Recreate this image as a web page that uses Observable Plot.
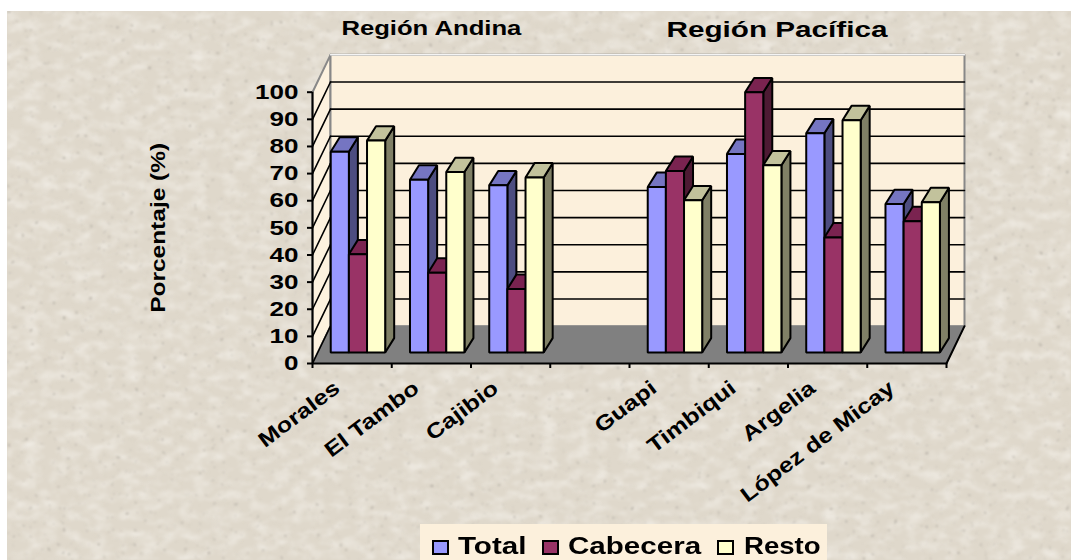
<!DOCTYPE html>
<html><head><meta charset="utf-8">
<script src="https://cdn.jsdelivr.net/npm/d3@7"></script>
<script src="https://cdn.jsdelivr.net/npm/@observablehq/plot@0.6"></script>
<style>
html,body{margin:0;padding:0;background:#fff;overflow:hidden}
#page{position:relative;width:1071px;height:560px;font-family:"Liberation Sans",Arial,sans-serif}
#bg{position:absolute;left:7px;top:11px;width:1064px;height:549px}
#chart{position:absolute;left:0;top:0}
#chart svg{background:transparent;display:block;font-family:"Liberation Sans",Arial,sans-serif}
#legend{position:absolute;left:420px;top:524px;width:407px;height:36px;background:#fcf0dc;overflow:hidden}
#legend i{position:absolute;top:16px;width:13px;height:11px;border:2px solid #000;display:block}
#legend span{position:absolute;top:4px;font:bold 24px "Liberation Sans",Arial,sans-serif;color:#000;line-height:36px;height:36px;white-space:nowrap;transform-origin:0 50%}
</style></head><body>
<div id="page">
<svg id="bg" xmlns="http://www.w3.org/2000/svg">
<filter id="mottle" x="0" y="0" width="100%" height="100%">
<feTurbulence type="fractalNoise" baseFrequency="0.06 0.1" numOctaves="3" seed="11"/>
<feColorMatrix values="0 0 0 0 0.95  0 0 0 0 0.93  0 0 0 0 0.89  1.2 0 0 0 -0.5"/>
<feGaussianBlur stdDeviation="0.8"/>
</filter>
<filter id="specks" x="0" y="0" width="100%" height="100%">
<feTurbulence type="fractalNoise" baseFrequency="0.22" numOctaves="2" seed="5"/>
<feColorMatrix values="0 0 0 0 0.45  0 0 0 0 0.42  0 0 0 0 0.37  6 0 0 0 -4.2"/>
<feGaussianBlur stdDeviation="0.8"/>
</filter>
<rect width="100%" height="100%" fill="#dfd8cb"/>
<rect width="100%" height="100%" filter="url(#mottle)"/>
<rect width="100%" height="100%" filter="url(#specks)"/>
</svg>
<div id="chart"></div>
<div id="legend"></div>
</div>
<script>
const categories = ["Morales","El Tambo","Cajibio","","Guapi","Timbiqui","Argelia","López de Micay"];
const total    = [74, 63.7, 61.6, null, 61, 73.2, 80.8, 54.7];
const cabecera = [36.2, 29.4, 23.4, null, 66.9, 95.9, 42.4, 48.4];
const resto    = [78.1, 66.5, 64.5, null, 56.1, 69, 85.6, 55.4];
const seriesNames = ["Total","Cabecera","Resto"];
const seriesValues = [total, cabecera, resto];
const frontColors = ["#9999ff","#993366","#ffffcc"];
const topColors   = ["#7575c2","#7a2350","#c2c29c"];
const sideColors  = ["#4d4d80","#4d1a33","#808066"];
const yTicks = d3.range(0,101,10);

// oblique depth in data units
const wallDx = 0.227, wallDy = 13.76;
const sideDx = 0.1136, sideDy = 5.3;
const baseDy = 4.06, barLeft = 0.23, barW = 0.229;

function poly(id, pts, color){ return pts.map(([x,y])=>({id,x,y,color})); }
const polys = [];
categories.forEach((c,i)=>{
  seriesValues.forEach((vals,s)=>{
    const v = vals[i];
    if (v == null) return;
    const x0 = i + barLeft + s*barW, x1 = x0 + barW;
    const y0 = baseDy, y1 = v + baseDy;
    polys.push(...poly(`side${i}${s}`,[[x1,y0],[x1,y1],[x1+sideDx,y1+sideDy],[x1+sideDx,y0+sideDy]],sideColors[s]));
    polys.push(...poly(`top${i}${s}`,[[x0,y1],[x1,y1],[x1+sideDx,y1+sideDy],[x0+sideDx,y1+sideDy]],topColors[s]));
    polys.push(...poly(`front${i}${s}`,[[x0,y0],[x1,y0],[x1,y1],[x0,y1]],frontColors[s]));
  });
});
const n = categories.length;
const pt = ([x,y])=>({x,y});
const leftWall = [[0,0],[0,100],[wallDx,100+wallDy],[wallDx,wallDy]].map(pt);
const backWall = [[wallDx,wallDy],[wallDx,100+wallDy],[n+wallDx,100+wallDy],[n+wallDx,wallDy]].map(pt);
const floor = [[0,0],[n,0],[n+wallDx,wallDy],[wallDx,wallDy]].map(pt);
const wallTop = [[wallDx,100+wallDy],[n+wallDx,100+wallDy]].map(pt);
const gridBack = yTicks.slice(1,-1).flatMap(t=>[{t,x:wallDx,y:t+wallDy},{t,x:n+wallDx,y:t+wallDy}]);
const gridSide = yTicks.slice(0,-1).flatMap(t=>[{t,x:0,y:t},{t,x:wallDx,y:t+wallDy}]);
const catTicks = d3.range(n+1);
const labelled = categories.map((c,i)=>({c,x:i+0.5})).filter(d=>d.c);

const chart = Plot.plot({
  width:1071, height:524, marginLeft:312, marginRight:125, marginTop:91.7, marginBottom:161,
  x:{domain:[0,n], axis:null},
  y:{domain:[0,100], axis:null},
  color:{type:"identity"},
  marks:[
    Plot.line(leftWall,{x:"x",y:"y",curve:"linear-closed",fill:"#fdf2df",stroke:"#888888",strokeWidth:2}),
    Plot.line(backWall,{x:"x",y:"y",curve:"linear-closed",fill:"#fcf0dc",stroke:"#888888",strokeWidth:2}),
    Plot.line(wallTop,{x:"x",y:"y",stroke:"#f4f4f4",strokeWidth:1.5}),
    Plot.line(floor,{x:"x",y:"y",curve:"linear-closed",fill:"#808080",stroke:"#808080",strokeWidth:1}),
    Plot.line(gridBack,{x:"x",y:"y",z:"t",stroke:"#000",strokeWidth:1.6}),
    Plot.line(gridSide,{x:"x",y:"y",z:"t",stroke:"#000",strokeWidth:1.6}),
    Plot.line([{x:n,y:0},{x:n+wallDx,y:wallDy}],{x:"x",y:"y",stroke:"#000",strokeWidth:2}),
    Plot.ruleX([0],{y1:0,y2:100,stroke:"#000",strokeWidth:2}),
    Plot.ruleY([0],{x1:0,x2:n,stroke:"#000",strokeWidth:2}),
    Plot.axisX(catTicks,{anchor:"bottom",tickSize:5,tickFormat:()=>"",stroke:"#000",strokeWidth:2,label:null}),
    Plot.axisY(yTicks,{anchor:"left",tickSize:5,tickPadding:9,stroke:"#000",strokeWidth:2,label:null,
      fontSize:21,fontWeight:"bold",fill:"#000"}),
    Plot.line(polys,{x:"x",y:"y",z:"id",fill:"color",stroke:"#000",strokeWidth:2,curve:"linear-closed",strokeLinejoin:"miter"}),
    Plot.text(labelled,{x:"x",frameAnchor:"bottom",text:"c",rotate:-37,textAnchor:"end",lineAnchor:"middle",
      dy:22,dx:-15,fontSize:21,fontWeight:"bold",fill:"#000",className:"stretch-x"}),
    Plot.text(["Región Andina"],{x:1.5,frameAnchor:"top",text:d=>d,dy:-63.7,fontSize:21,fontWeight:"bold",fill:"#000",lineAnchor:"middle",className:"stretch-a"}),
    Plot.text(["Región Pacífica"],{x:6,frameAnchor:"top",text:d=>d,dx:-11,dy:-62.7,fontSize:22,fontWeight:"bold",fill:"#000",lineAnchor:"middle",className:"stretch-p"}),
    Plot.text(["Porcentaje (%)"],{frameAnchor:"left",text:d=>d,rotate:-90,textAnchor:"middle",dx:-154,fontSize:21,fontWeight:"bold",fill:"#000",className:"stretch-t"})
  ]
});
document.getElementById("chart").appendChild(chart);

// The reference's type is wider than its height: stretch glyphs along the baseline
function stretch(sel, k, target){
  chart.querySelectorAll(sel).forEach(t=>{
    const w = t.getComputedTextLength();
    t.setAttribute("textLength", target || w*k);
    t.setAttribute("lengthAdjust","spacingAndGlyphs");
  });
}
stretch('g[aria-label="y-axis tick label"] text',1.24);
stretch('.stretch-x text',1.2);
stretch('.stretch-a text',1,180);
stretch('.stretch-p text',1,221);
stretch('.stretch-t text',1,170);

// legend
const legend = d3.select("#legend");
const swatchLeft = [12,122,297], textLeft=[38,148,324], textWidth=[69,133,77];
seriesNames.forEach((s,i)=>{
  legend.append("i").style("left",swatchLeft[i]+"px").style("background",frontColors[i]);
  const sp = legend.append("span").text(s).style("left",textLeft[i]+"px");
  const w = sp.node().offsetWidth;
  sp.style("transform",`scaleX(${textWidth[i]/w})`);
});
</script>
</body></html>
